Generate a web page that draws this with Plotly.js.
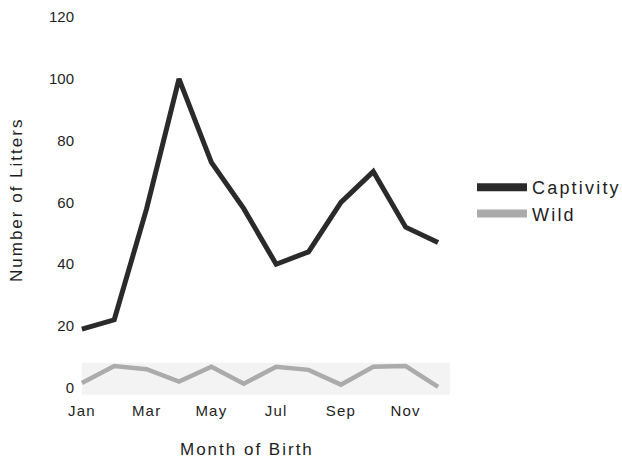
<!DOCTYPE html>
<html>
<head>
<meta charset="utf-8">
<script src="https://cdn.plot.ly/plotly-3.0.1.min.js"></script>
<style>
  html, body { margin: 0; padding: 0; background: #fff; }
  #chart { width: 622px; height: 460px; }
  .xtick text { letter-spacing: 1.2px; }
  .legendtext { letter-spacing: 2.2px; }
  .annotation-text { letter-spacing: 2px; }
  .legend .legendlines path { stroke-width: 8px !important; }
</style>
</head>
<body>
<div id="chart"></div>
<script>
const months = ['Jan','Feb','Mar','Apr','May','Jun','Jul','Aug','Sep','Oct','Nov','Dec'];
const captivity = [19, 22, 58, 100, 73, 58, 40, 44, 60, 70, 52, 47];
const wild = [1.5, 7, 6, 2, 6.8, 1.3, 6.8, 5.8, 1, 6.8, 7, 0.3];
const tickMonths = ['Jan','Mar','May','Jul','Sep','Nov'];
const yTicks = [0, 20, 40, 60, 80, 100, 120];

const font = 'Liberation Sans, Arial, Helvetica, sans-serif';

const traces = [
  {
    x: months, y: captivity, name: 'Captivity', type: 'scatter', mode: 'lines',
    line: { color: '#2a2a2a', width: 5 }
  },
  {
    x: months, y: wild, name: 'Wild', type: 'scatter', mode: 'lines',
    line: { color: '#ababab', width: 4.5 }
  }
];

const layout = {
  width: 622, height: 460,
  margin: { l: 77, r: 171, t: 11, b: 63 },
  paper_bgcolor: '#ffffff', plot_bgcolor: '#ffffff',
  font: { family: font, color: '#1e1e1e', size: 15 },
  showlegend: true,
  xaxis: {
    type: 'category',
    range: [-0.15, 11.4],
    tickmode: 'array', tickvals: tickMonths, ticktext: tickMonths,
    showgrid: false, zeroline: false, showline: false, ticks: '',
    tickfont: { size: 15, color: '#1e1e1e' },
    ticklabelstandoff: 3
  },
  yaxis: {
    range: [-3, 122],
    tickmode: 'array', tickvals: yTicks,
    showgrid: false, zeroline: false, showline: false, ticks: '',
    tickfont: { size: 15, color: '#1e1e1e' },
    ticklabelstandoff: 2
  },
  shapes: [{
    type: 'rect', xref: 'x', yref: 'y', x0: 0, x1: 11.37, y0: -2.3, y1: 8.1,
    fillcolor: '#f3f3f3', line: { width: 0 }, layer: 'below'
  }],
  annotations: [
    {
      text: 'Month of Birth', xref: 'paper', yref: 'paper',
      x: (247 - 77) / 374, y: -(449 - 397) / 386, xanchor: 'center', yanchor: 'middle',
      showarrow: false, font: { size: 17, color: '#1e1e1e' }
    },
    {
      text: 'Number of Litters', xref: 'paper', yref: 'paper', textangle: -90,
      x: (16 - 77) / 374, y: (397 - 200) / 386, xanchor: 'center', yanchor: 'middle',
      showarrow: false, font: { size: 17, color: '#1e1e1e' }
    }
  ],
  legend: {
    xref: 'container', yref: 'container', x: 472 / 622, y: 1 - 169 / 460,
    xanchor: 'left', yanchor: 'top',
    font: { size: 18, color: '#1e1e1e' },
    bgcolor: 'rgba(0,0,0,0)', itemwidth: 50, tracegroupgap: 0
  }
};

Plotly.newPlot('chart', traces, layout, { displayModeBar: false, staticPlot: true });
</script>
</body>
</html>
